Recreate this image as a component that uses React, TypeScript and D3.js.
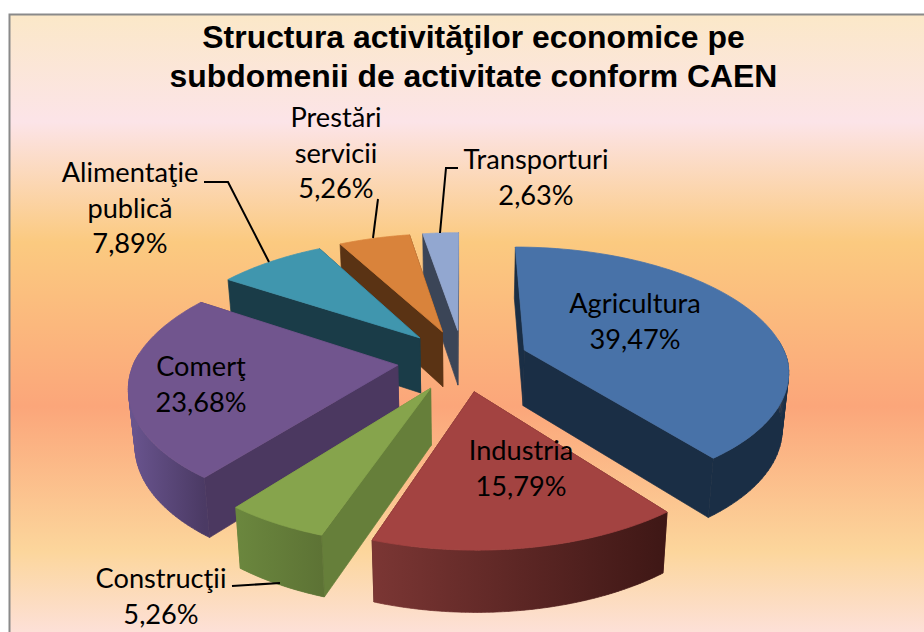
import React from "react";
import * as d3 from "d3";

const W = 924, H = 632;
const categories = ["Agricultura", "Industria", "Construcţii", "Comerţ", "Alimentaţie publică", "Prestări servicii", "Transporturi"];
const shares = [39.47, 15.79, 5.26, 23.68, 7.89, 5.26, 2.64];
const shareLabels = ["39,47%", "15,79%", "5,26%", "23,68%", "7,89%", "5,26%", "2,63%"];
const titleLines = ["Structura activităţilor economice pe", "subdomenii de activitate conform CAEN"];
const topColors = ["#4872a8", "#a34341", "#86a44c", "#71558e", "#4096ae", "#d9833b", "#92a7d0"];
const wallColors = ["#1a2e45", "#4a1c1a", "#667f3a", "#4b3860", "#1a3c48", "#5a3314", "#3b4557"];
const outerFrom = ["#1a2e45", "#7b3634", "#6b873e", "#6a5590", "#1a3c48", "#5a3314", "#3b4557"];
const outerTo = ["#1a2e45", "#3e1715", "#5d7335", "#4b3a64", "#1a3c48", "#5a3314", "#3b4557"];
const paintOrder = [6, 5, 4, 3, 0, 2, 1];
const labelLines = [["Agricultura"], ["Industria"], ["Construcţii"], ["Comerţ"], ["Alimentaţie", "publică"], ["Prestări", "servicii"], ["Transporturi"]];
const labelAnchors = [[635, 303], [521, 450], [161, 578], [201, 366], [130, 172], [336, 117], [536, 159]];
const leaders = [null, null, [[232, 586], [280, 583]], null, [[204, 182], [228, 182], [269, 262]], [[378, 199], [373, 238]], [[458, 168], [446, 168], [440, 233]]];
const bgStops = [[0, "#fbe8c8"], [0.17, "#fce4e8"], [0.36, "#fbca80"], [0.62, "#fba67a"], [0.85, "#fcd69c"], [1, "#fde2e2"]];

const CX = 463, CY = 360, R = 263, RT = 124, K_BACK = 0.173, K_FRONT = 0.15, EX = 0.25, DEPTH = 56, SHRINK = 0.98;

function project(X: number, Y: number, bottom = false): [number, number] {
  const s = 1 / (1 - (Y < 0 ? K_BACK : K_FRONT) * Y);
  const x = R * X * s, y = RT * Y * s;
  if (!bottom) return [CX + x, CY + y];
  return [CX + x * SHRINK, CY + y * SHRINK + DEPTH * Math.pow(s, 0.8)];
}

const arcs = d3.pie<number>().sort(null).startAngle(0).endAngle(2 * Math.PI)(shares);
const line = d3.line<[number, number]>();

function geometry(a: d3.PieArcDatum<number>) {
  const mid = (a.startAngle + a.endAngle) / 2;
  const ox = EX * Math.sin(mid), oy = -EX * Math.cos(mid);
  const rim = (t: number): [number, number] => [ox + Math.sin(t), oy - Math.cos(t)];
  const samples = d3.range(0, 81).map((i) => a.startAngle + (a.endAngle - a.startAngle) * i / 80);
  const top = [project(ox, oy), ...samples.map((t) => project(...rim(t)))];
  const wall = (t: number) => {
    const [x, y] = rim(t);
    return [project(ox, oy), project(x, y), project(x, y, true), project(ox, oy, true)] as [number, number][];
  };
  const walls = [a.startAngle, a.endAngle].sort((p, q) => rim(p)[1] - rim(q)[1]).map(wall);
  const vis = samples.filter((t) => Math.cos(t) < 0.1);
  const quads = d3.pairs(vis).map(([p, q]) =>
    line([project(...rim(p)), project(...rim(q)), project(...rim(q), true), project(...rim(p), true)]) + "Z").join("");
  const xs = vis.map((t) => project(...rim(t))[0]);
  return { top, walls, quads, x0: (d3.min(xs) ?? 0) as number, x1: (d3.max(xs) ?? 1) as number };
}

export default function App() {
  const geoms = arcs.map(geometry);
  const titleFont = "'Liberation Sans', Arial, sans-serif";
  const labelFont = "Lato, sans-serif";
  return (
    <svg width={W} height={H} style={{ position: "absolute", left: 0, top: 0, background: "#fff" }}>
      <defs>
        <linearGradient id="bg" x1="0" y1="0" x2="0" y2="1">
          {bgStops.map(([o, c]) => <stop key={String(o)} offset={o as number} stopColor={c as string} />)}
        </linearGradient>
        {geoms.map((g, i) => (
          <linearGradient key={i} id={`outer${i}`} gradientUnits="userSpaceOnUse" x1={g.x0} x2={g.x1} y1={0} y2={0}>
            <stop offset={0} stopColor={outerFrom[i]} />
            <stop offset={1} stopColor={outerTo[i]} />
          </linearGradient>
        ))}
      </defs>
      <rect x={9.5} y={14.5} width={W} height={H} fill="url(#bg)" stroke="#8a8a8a" strokeWidth={2} />
      {titleLines.map((t, i) => (
        <text key={t} x={473.5} y={48 + i * 39} textAnchor="middle" fontFamily={titleFont} fontWeight="bold" fontSize={31.9} fill="#000">{t}</text>
      ))}
      {paintOrder.map((i) => {
        const g = geoms[i];
        return (
          <g key={i}>
            {g.walls.map((w, j) => <path key={j} d={line(w) + "Z"} fill={wallColors[i]} stroke={wallColors[i]} strokeWidth={0.7} />)}
            {g.quads && <path d={g.quads} fill={`url(#outer${i})`} stroke={`url(#outer${i})`} strokeWidth={0.7} />}
            <path d={line(g.top) + "Z"} fill={topColors[i]} stroke={topColors[i]} strokeWidth={0.8} />
          </g>
        );
      })}
      {leaders.map((l, i) => l && (
        <path key={i} d={line(l as [number, number][]) as string} fill="none" stroke="#000" strokeWidth={2} />
      ))}
      {categories.map((c, i) => {
        const lines = [...labelLines[i], shareLabels[i]];
        return (
          <text key={c} textAnchor="middle" fontFamily={labelFont} fontSize={27.2} fill="#000">
            {lines.map((t, j) => (
              <tspan key={j} x={labelAnchors[i][0]} y={labelAnchors[i][1] + 10 + j * 35.5}>{t}</tspan>
            ))}
          </text>
        );
      })}
    </svg>
  );
}
